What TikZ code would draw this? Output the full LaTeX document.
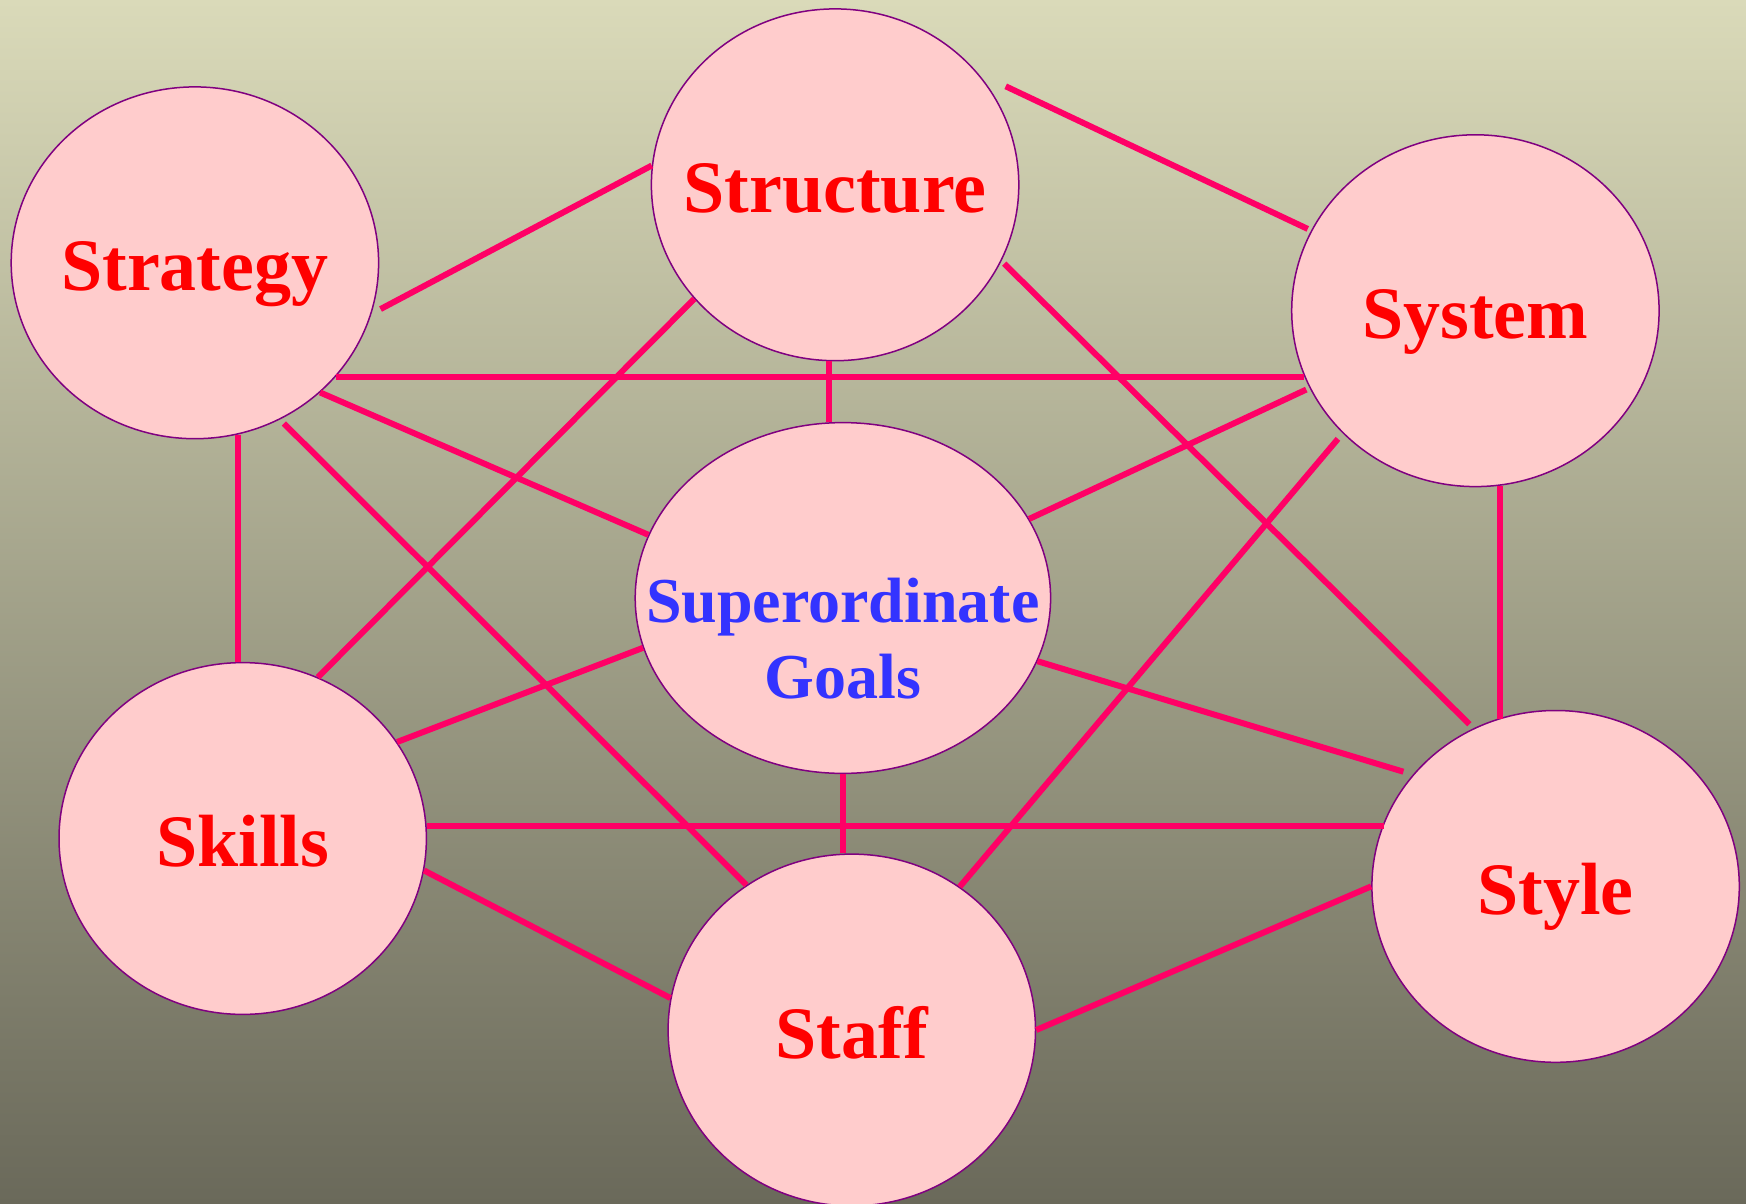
\documentclass[tikz,border=0pt]{standalone}
\usepackage{fontspec}
\setmainfont{Liberation Serif}
\usetikzlibrary{shapes.geometric,calc}
\definecolor{bgtop}{RGB}{218,218,185}
\definecolor{bgbot}{RGB}{106,105,90}
\definecolor{circfill}{RGB}{255,204,204}
\definecolor{circline}{RGB}{128,0,128}
\definecolor{linkcol}{RGB}{255,0,102}
\definecolor{lblred}{RGB}{255,0,0}
\definecolor{lblblue}{RGB}{51,51,255}
\begin{document}
\begin{tikzpicture}[x=0.5pt,y=-0.5pt,
  bubble/.style={ellipse,draw=circline,line width=0.75pt,fill=circfill,minimum width=183.7pt,minimum height=175.9pt,inner sep=0pt},
  goalbubble/.style={bubble,minimum width=207.7pt,minimum height=175.4pt},
  link/.style={draw=linkcol,line width=3pt},
  lbl/.style={anchor=base,text=lblred,font=\bfseries\fontsize{37}{44}\selectfont,inner sep=0pt},
  glbl/.style={anchor=base,text=lblblue,font=\bfseries\fontsize{32}{38}\selectfont,inner sep=0pt}]
\useasboundingbox (0,0) rectangle (1746,1204);
\clip (0,0) rectangle (1746,1204);
\shade[top color=bgtop,bottom color=bgbot] (0,0) rectangle (1746,1204);

% circles
\node[bubble] (strat) at (194.9,262.8) {};
\node[bubble] (struct) at (835.1,184.8) {};
\node[bubble] (sys) at (1475.4,310.7) {};
\node[goalbubble] (goals) at (842.9,598) {};
\node[bubble] (skills) at (242.7,838.5) {};
\node[bubble] (staff) at (851.8,1030) {};
\node[bubble] (style) at (1555.6,886.4) {};

% connectors
\draw[link] ($(strat.center)!1.04!(strat.-14.5)$) -- (struct.174.5);
\draw[link] ($(struct.center)!1.08!(struct.30)$) -- ($(sys.center)!1.02!(sys.154.8)$);
\draw[link] (strat.-39.4) -- (strat.-39.4 -| sys.201);
\draw[link] (strat.-46.5) -- (goals.162);
\draw[link] ($(strat.center)!1.03!(strat.-61.3)$) -- (staff.126.6);
\draw[link] (strat.-76) -- (strat.-76 |- skills.north);
\draw[link] (struct.219.1) -- (skills.65.5);
\draw[link] (struct.-92.6) -- (struct.-92.6 |- goals.north);
\draw[link] ($(struct.center)!1.02!(struct.-25)$) -- ($(style.center)!1.03!(style.118.75)$);
\draw[link] ($(sys.center)!1.02!(sys.205.5)$) -- (goals.23.9);
\draw[link] ($(sys.center)!1.04!(sys.223.6)$) -- (staff.53.7);
\draw[link] (sys.-82) -- (sys.-82 |- style.109);
\draw[link] (goals.194.4) -- (skills.32.2);
\draw[link] (goals.-18.7) -- ($(style.center)!1.05!(style.143.6)$);
\draw[link] (goals.south) -- (goals.south |- staff.north);
\draw[link] (skills.4.85) -- (skills.4.85 -| style.159.3);
\draw[link] (skills.-10.2) -- (staff.170.4);
\draw[link] (staff.east) -- (style.west);

% labels
\node[lbl] (strat-t) at ($(strat.center)+(0,28)$) {Strategy};
\node[lbl] (struct-t) at ($(struct.center)+(0,28)$) {Structure};
\node[lbl] (sys-t) at ($(sys.center)+(0,28)$) {System};
\node[lbl] (skills-t) at ($(skills.center)+(0,28)$) {Skills};
\node[lbl] (staff-t) at ($(staff.center)+(0,28)$) {Staff};
\node[lbl] (style-t) at ($(style.center)+(0,28)$) {Style};
\node[glbl] (goals-t1) at ($(goals.center)+(0,24)$) {Superordinate};
\node[glbl] (goals-t2) at ($(goals.center)+(0,100)$) {Goals};
\end{tikzpicture}
\end{document}
